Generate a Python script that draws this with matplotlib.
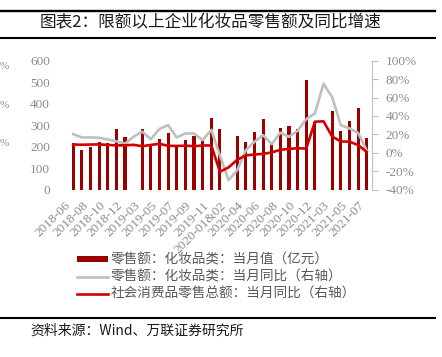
import numpy as np
import matplotlib.pyplot as plt
from matplotlib.lines import Line2D

plt.rcParams['font.family'] = ['Noto Sans CJK SC', 'DejaVu Sans']

# 类目（2019、2020、2021 年 1-2 月合并）
months = ['2018-06', '2018-07', '2018-08', '2018-09', '2018-10', '2018-11', '2018-12',
          '2019-01&02', '2019-03', '2019-04', '2019-05', '2019-06', '2019-07', '2019-08',
          '2019-09', '2019-10', '2019-11', '2019-12', '2020-01&02', '2020-03', '2020-04',
          '2020-05', '2020-06', '2020-07', '2020-08', '2020-09', '2020-10', '2020-11',
          '2020-12', '2021-01&02', '2021-03', '2021-04', '2021-05', '2021-06', '2021-07']

# 零售额:化妆品类:当月值（亿元）
cosm_value = [216, 185, 200, 222, 216, 281, 247, np.nan, 281, 203, 234, 265, 203, 231,
              250, 228, 332, 282, np.nan, 250, 223, 270, 327, 212, 286, 296, 282, 510,
              316, np.nan, 366, 273, 320, 381, 239]

# 零售额:化妆品类:当月同比（%）
cosm_yoy = [20.3, 16.7, 16.7, 16.3, 14.5, 12.5, 10.0, 17.5, 23.0, 14.9, 26.0, 30.0, 16.7,
            21.0, 21.0, 13.8, 25.0, -3.0, -29.7, -18.8, 3.0, 12.0, 19.2, 9.5, 22.0, 17.4,
            24.0, 36.6, 42.8, 75.0, 60.5, 30.0, 26.5, 21.7, 2.5]

# 社会消费品零售总额:当月同比（%）
total_yoy = [9.0, 8.8, 9.0, 9.2, 8.6, 8.1, 8.2, 8.7, 7.2, 8.6, 9.8, 7.6, 7.5, 7.8, 7.2,
             8.0, 8.0, -20.5, -15.8, -7.5, -2.8, -1.8, -1.1, 0.5, 3.3, 4.3, 5.0, 4.6,
             33.8, 34.2, 17.7, 12.4, 12.1, 8.5, 1.0]

labels = ['零售额：化妆品类：当月值（亿元）',
          '零售额：化妆品类：当月同比（右轴）',
          '社会消费品零售总额：当月同比（右轴）']

W, H = 442, 357
fig = plt.figure(figsize=(W / 100, H / 100), dpi=100)

tick_grey = '#8c8c8c'
serif = 'Liberation Serif'

x = np.arange(len(months))
ax = fig.add_axes([68 / W, (H - 189.7) / H, (371.7 - 68) / W, 129 / H])
bars = ax.bar(x, cosm_value, width=0.36, color='#9b0000', label=labels[0])
ax.set_xlim(-0.6, len(months) - 1 + 0.58)
ax.set_ylim(0, 600)
ax.set_yticks(np.arange(0, 601, 100))
ax.tick_params(axis='y', length=0, pad=13, labelcolor=tick_grey, labelsize=9.5)
for t in ax.get_yticklabels():
    t.set_fontfamily(serif)
ax.set_xticks(x[::2])
ax.set_xticklabels(months[::2], rotation=45, ha='right', family=serif,
                   fontsize=9.5, color=tick_grey)
ax.tick_params(axis='x', length=0, pad=7)
for s in ax.spines.values():
    s.set_visible(False)

ax2 = ax.twinx()
l1, = ax2.plot(x, cosm_yoy, color='#bfbfbf', lw=1.9, label=labels[1])
l2, = ax2.plot(x, total_yoy, color='#d00000', lw=1.9, label=labels[2])
ax2.set_ylim(-40, 100)
ax2.set_yticks(np.arange(-40, 101, 20))
ax2.set_yticklabels([f'{v}%' for v in range(-40, 101, 20)], family=serif)
ax2.tick_params(axis='y', length=4, width=0.8, color='#bfbfbf', pad=6,
                labelcolor=tick_grey, labelsize=9.5)
for k, s in ax2.spines.items():
    s.set_visible(k == 'right')
ax2.spines['right'].set_color('#bfbfbf')

fig.legend(handles=[bars, l1, l2], loc='upper left',
           bbox_to_anchor=(77 / W, 1 - 253 / H), frameon=False,
           prop={'size': 9.8}, labelcolor='#595959', handlelength=2.3,
           handleheight=0.35, handletextpad=0.2, labelspacing=0.22,
           borderpad=0, borderaxespad=0)

# 标题与上下分隔线
for yy, lw in [(11, 1.7), (37.5, 1.5), (317.7, 1.5)]:
    fig.add_artist(Line2D([0, 435 / W], [1 - yy / H] * 2, transform=fig.transFigure,
                          color='black', lw=lw))
fig.text(40 / W, 1 - 23 / H, '图表2：限额以上企业化妆品零售额及同比增速',
         fontsize=12, color='#1a1a1a', ha='left', va='center')
fig.text(30 / W, 1 - 331 / H, '资料来源：Wind、万联证券研究所',
         fontsize=10, color='#1a1a1a', ha='left', va='center')

# 左边缘残留的刻度符号
for yy in [66.7, 105, 143]:
    fig.text(0, 1 - yy / H, '%', fontsize=8, family=serif, color=tick_grey,
             ha='left', va='center')

fig.savefig('out.png', dpi=100)
